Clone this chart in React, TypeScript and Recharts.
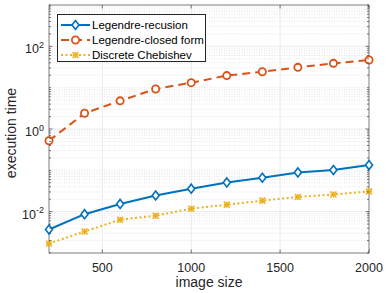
import { LineChart, Line, XAxis, YAxis, CartesianGrid, Legend } from "recharts";

const imageSizes = [200, 400, 600, 800, 1000, 1200, 1400, 1600, 1800, 2000];
const legendreRecursion = [0.0037, 0.0087, 0.0154, 0.0247, 0.036, 0.051, 0.066, 0.089, 0.102, 0.134];
const legendreClosedForm = [0.52, 2.4, 4.8, 9.3, 13.2, 19.6, 24.3, 31, 38.7, 46.7];
const discreteChebishev = [0.0017, 0.0033, 0.0064, 0.008, 0.0118, 0.0148, 0.0185, 0.0227, 0.026, 0.031];

const xTicks = [500, 1000, 1500, 2000];
const yLabelTicks = [0.01, 1, 100];
const yDecades = [-3, -2, -1, 0, 1, 2];

const yAllTicks = [
  ...yDecades.flatMap((e) => [1, 2, 3, 4, 5, 6, 7, 8, 9].map((m) => Number((m * 10 ** e).toPrecision(3)))),
  1000,
];
const yMinorGrid = yAllTicks.filter((v) => !yLabelTicks.includes(v) && v !== 0.001 && v !== 1000);

const data = imageSizes.map((size, i) => ({
  size,
  recursion: legendreRecursion[i],
  closed: legendreClosedForm[i],
  chebishev: discreteChebishev[i],
}));

const AXIS = "#262626";
const FONT = "'Liberation Sans', Arial, Helvetica, sans-serif";

type MarkerKind = "diamond" | "circle" | "star";

const series: Array<{ key: string; name: string; color: string; dash?: string; marker: MarkerKind }> = [
  { key: "recursion", name: "Legendre-recusion", color: "#0072BD", marker: "diamond" },
  { key: "closed", name: "Legendre-closed form", color: "#D95319", dash: "8 5", marker: "circle" },
  { key: "chebishev", name: "Discrete Chebishev", color: "#EDB120", dash: "2 2.5", marker: "star" },
];

const Marker = ({ kind, cx, cy, color }: { kind: MarkerKind; cx: number; cy: number; color: string }) => {
  if (kind === "diamond") {
    return (
      <path
        d={`M${cx},${cy - 4.5} L${cx + 3.5},${cy} L${cx},${cy + 4.5} L${cx - 3.5},${cy} Z`}
        fill="#fff"
        stroke={color}
        strokeWidth={1.6}
      />
    );
  }
  if (kind === "circle") {
    return <circle cx={cx} cy={cy} r={3.6} fill="#fff" stroke={color} strokeWidth={1.8} />;
  }
  const s = 3;
  return (
    <g stroke={color} strokeWidth={1.5}>
      <line x1={cx - s} x2={cx + s} y1={cy} y2={cy} />
      <line x1={cx} x2={cx} y1={cy - s} y2={cy + s} />
      <line x1={cx - s} x2={cx + s} y1={cy - s} y2={cy + s} />
      <line x1={cx - s} x2={cx + s} y1={cy + s} y2={cy - s} />
    </g>
  );
};

const BottomTick = ({ x, y, payload }: any) => (
  <g>
    <line x1={x} x2={x} y1={y} y2={y - 3.5} stroke={AXIS} strokeWidth={0.6} />
    <text x={x} y={y + 19} textAnchor="middle" fontSize={12.5} fill={AXIS}>
      {payload.value}
    </text>
  </g>
);

const TopTick = ({ x, y }: any) => <line x1={x} x2={x} y1={y} y2={y + 3.5} stroke={AXIS} strokeWidth={0.6} />;

const LeftTick = ({ x, y, payload }: any) => {
  const major = yLabelTicks.includes(payload.value);
  const exp = Math.round(Math.log10(payload.value));
  return (
    <g>
      <line x1={x} x2={x + (major ? 3.5 : 2)} y1={y} y2={y} stroke={AXIS} strokeWidth={0.6} />
      {major && (
        <text x={x - 5} y={y + 7} textAnchor="end" fontSize={12.5} fill={AXIS}>
          10
          <tspan dy={-5.5} fontSize={9}>
            {exp}
          </tspan>
        </text>
      )}
    </g>
  );
};

const RightTick = ({ x, y, payload }: any) => {
  const major = yLabelTicks.includes(payload.value);
  return <line x1={x} x2={x - (major ? 3.5 : 2)} y1={y} y2={y} stroke={AXIS} strokeWidth={0.6} />;
};

const LegendBox = () => (
  <div style={{ width: 149, height: 48, border: `0.6px solid ${AXIS}`, background: "#fff", boxSizing: "border-box" }}>
    <svg width={148} height={47} style={{ display: "block" }}>
      {series.map((s, i) => {
        const y = 10 + i * 15;
        return (
          <g key={s.key}>
            <line x1={3} x2={32} y1={y} y2={y} stroke={s.color} strokeWidth={2} strokeDasharray={s.dash} />
            <Marker kind={s.marker} cx={17.5} cy={y} color={s.color} />
            <text x={34} y={y + 4} fontSize={11.5} fill="#000" fontFamily={FONT}>
              {s.name}
            </text>
          </g>
        );
      })}
    </svg>
  </div>
);

export default function App() {
  return (
    <div style={{ position: "absolute", left: 0, top: 0, fontFamily: FONT }}>
      <LineChart width={390} height={293} data={data} margin={{ top: 0, right: 0, bottom: 0, left: 0 }}>
        <CartesianGrid
          yAxisId="left"
          xAxisId="bottom"
          vertical={false}
          horizontalValues={yMinorGrid}
          stroke="#d4d4d4"
          strokeWidth={0.6}
          strokeDasharray="1 1.5"
        />
        <CartesianGrid
          yAxisId="left"
          xAxisId="bottom"
          horizontalValues={yLabelTicks}
          verticalValues={[500, 1000, 1500]}
          stroke="#e4e4e4"
          strokeWidth={0.8}
        />
        <XAxis
          xAxisId="bottom"
          dataKey="size"
          type="number"
          domain={[200, 2000]}
          ticks={xTicks}
          interval={0}
          height={40}
          tickSize={0}
          tickMargin={0}
          tick={<BottomTick />}
          axisLine={{ stroke: AXIS, strokeWidth: 0.6 }}
          label={{
            content: () => (
              <text x={209} y={287} textAnchor="middle" fontSize={14} fill={AXIS}>
                image size
              </text>
            ),
          }}
        />
        <XAxis
          xAxisId="top"
          orientation="top"
          dataKey="size"
          type="number"
          domain={[200, 2000]}
          ticks={xTicks}
          interval={0}
          height={5}
          tickSize={0}
          tickMargin={0}
          tick={<TopTick />}
          axisLine={{ stroke: AXIS, strokeWidth: 0.6 }}
        />
        <YAxis
          yAxisId="left"
          scale="log"
          type="number"
          domain={[0.001, 1000]}
          allowDataOverflow
          ticks={yAllTicks}
          interval={0}
          width={49}
          tickSize={0}
          tickMargin={0}
          tick={<LeftTick />}
          axisLine={{ stroke: AXIS, strokeWidth: 0.6 }}
          label={{
            content: () => (
              <text transform="translate(15.5,133) rotate(-90)" textAnchor="middle" fontSize={14} fill={AXIS}>
                execution time
              </text>
            ),
          }}
        />
        <YAxis
          yAxisId="right"
          orientation="right"
          scale="log"
          type="number"
          domain={[0.001, 1000]}
          allowDataOverflow
          ticks={yAllTicks}
          interval={0}
          width={21}
          tickSize={0}
          tickMargin={0}
          tick={<RightTick />}
          axisLine={{ stroke: AXIS, strokeWidth: 0.6 }}
        />
        <Legend
          align="center"
          verticalAlign="middle"
          content={() => <LegendBox />}
          wrapperStyle={{ left: 57, top: 14, width: 149, height: 48 }}
        />
        {series.map((s) => (
          <Line
            key={s.key}
            xAxisId="bottom"
            yAxisId="left"
            dataKey={s.key}
            name={s.name}
            type="linear"
            stroke={s.color}
            strokeWidth={2}
            strokeDasharray={s.dash}
            isAnimationActive={false}
            dot={(p: any) => <Marker key={`${s.key}-${p.index}`} kind={s.marker} cx={p.cx} cy={p.cy} color={s.color} />}
            activeDot={false}
          />
        ))}
      </LineChart>
    </div>
  );
}
